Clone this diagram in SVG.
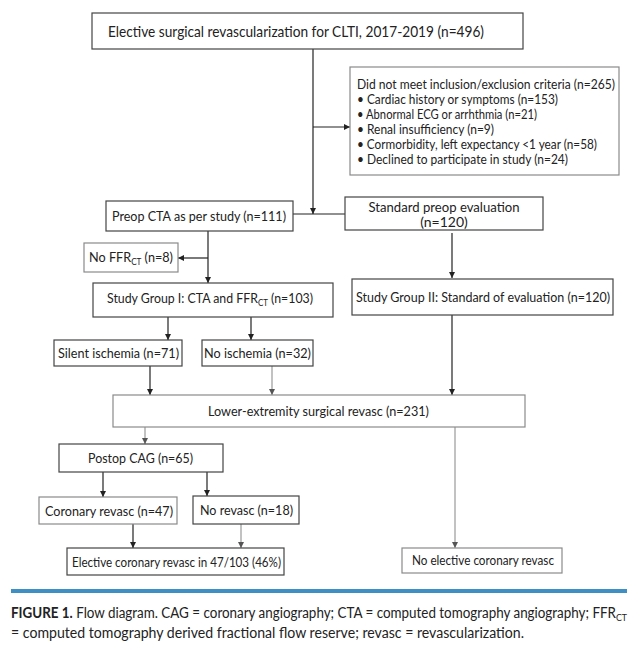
<svg xmlns="http://www.w3.org/2000/svg" width="640" height="650" viewBox="0 0 640 650">
<style>
  .box { fill: #ffffff; stroke: #444444; stroke-width: 1.2; }
  .boxl { fill: #ffffff; stroke: #8a8a8a; stroke-width: 1.2; }
  .t { font-family: Lato, "Liberation Sans", sans-serif; font-size: 14px; fill: #222222; }
  .tc { text-anchor: middle; }
  .ts { font-family: Lato, "Liberation Sans", sans-serif; font-size: 13px; fill: #222222; }
  .cap { font-family: Lato, "Liberation Sans", sans-serif; font-size: 14.5px; fill: #222222; }
  .sub { font-size: 9px; baseline-shift: -3px; }
  .ln { stroke: #222222; stroke-width: 1.2; fill: none; }
  .lg { stroke: #999999; stroke-width: 1.2; fill: none; }
</style>
<defs>
  <marker id="ad" viewBox="0 0 6 6" refX="6" refY="3" markerWidth="6" markerHeight="6" markerUnits="userSpaceOnUse" orient="auto">
    <path d="M0,0 L6,3 L0,6 z" fill="#222222"/>
  </marker>
  <marker id="ag" viewBox="0 0 6 6" refX="6" refY="3" markerWidth="6" markerHeight="6" markerUnits="userSpaceOnUse" orient="auto">
    <path d="M0,0 L6,3 L0,6 z" fill="#555555"/>
  </marker>
</defs>
<rect width="640" height="650" fill="#ffffff"/>

<g id="connectors">
  <line class="ln" x1="313" y1="49" x2="313" y2="214" marker-end="url(#ad)"/>
  <line class="ln" x1="313" y1="127" x2="350" y2="127" marker-end="url(#ad)"/>
  <line class="ln" x1="293" y1="214" x2="345" y2="214"/>
  <line class="ln" x1="208" y1="231" x2="208" y2="283" marker-end="url(#ad)"/>
  <line class="ln" x1="208" y1="258" x2="178" y2="258" marker-end="url(#ad)"/>
  <line class="ln" x1="452" y1="233" x2="452" y2="278" marker-end="url(#ad)"/>
  <line class="ln" x1="168" y1="317" x2="168" y2="340" marker-end="url(#ad)"/>
  <line class="ln" x1="251" y1="317" x2="251" y2="340" marker-end="url(#ad)"/>
  <line class="ln" x1="150" y1="366" x2="150" y2="395" marker-end="url(#ad)"/>
  <line class="lg" x1="272" y1="366" x2="272" y2="395" marker-end="url(#ag)"/>
  <line class="ln" x1="452" y1="315" x2="452" y2="395" marker-end="url(#ad)"/>
  <line class="lg" x1="145" y1="427" x2="145" y2="444" marker-end="url(#ag)"/>
  <line class="lg" x1="455" y1="427" x2="455" y2="548" marker-end="url(#ag)"/>
  <line class="ln" x1="103" y1="472" x2="103" y2="497" marker-end="url(#ad)"/>
  <line class="ln" x1="207" y1="472" x2="207" y2="496" marker-end="url(#ad)"/>
  <line class="ln" x1="133" y1="524" x2="133" y2="548" marker-end="url(#ad)"/>
  <line class="lg" x1="241" y1="524" x2="241" y2="548" marker-end="url(#ag)"/>
</g>

<g id="n-top">
  <rect class="box" x="92" y="13" width="431" height="36"/>
  <text class="t" style="font-size:16px" x="108" y="37" textLength="376" lengthAdjust="spacingAndGlyphs">Elective surgical revascularization for CLTI, 2017-2019 (n=496)</text>
</g>

<g id="n-excl">
  <rect class="boxl" x="350" y="67" width="269" height="108"/>
  <text class="ts" x="357" y="89" textLength="258" lengthAdjust="spacingAndGlyphs">Did not meet inclusion/exclusion criteria (n=265)</text>
  <text class="ts" x="357" y="104" textLength="201" lengthAdjust="spacingAndGlyphs">• Cardiac history or symptoms (n=153)</text>
  <text class="ts" x="357" y="119" textLength="180" lengthAdjust="spacingAndGlyphs">• Abnormal ECG or arrhthmia (n=21)</text>
  <text class="ts" x="357" y="134" textLength="137" lengthAdjust="spacingAndGlyphs">• Renal insufficiency (n=9)</text>
  <text class="ts" x="357" y="149" textLength="240" lengthAdjust="spacingAndGlyphs">• Cormorbidity, left expectancy &lt;1 year (n=58)</text>
  <text class="ts" x="357" y="164" textLength="211" lengthAdjust="spacingAndGlyphs">• Declined to participate in study (n=24)</text>
</g>

<g id="n-preopcta">
  <rect class="box" x="106" y="201" width="187" height="30"/>
  <text class="t" x="112" y="221" textLength="174" lengthAdjust="spacingAndGlyphs">Preop CTA as per study (n=111)</text>
</g>

<g id="n-stdpreop">
  <rect class="box" x="345" y="197" width="198" height="33"/>
  <text class="t tc" x="444" y="212" textLength="151" lengthAdjust="spacingAndGlyphs">Standard preop evaluation</text>
  <text class="t tc" x="444" y="227">(n=120)</text>
</g>

<g id="n-noffr">
  <rect class="boxl" x="84" y="243" width="94" height="29"/>
  <text class="t" x="89" y="262" textLength="84" lengthAdjust="spacingAndGlyphs">No FFR<tspan class="sub">CT</tspan> (n=8)</text>
</g>

<g id="n-group1">
  <rect class="box" x="93" y="283" width="240" height="34"/>
  <text class="t" x="107" y="303" textLength="206" lengthAdjust="spacingAndGlyphs">Study Group I: CTA and FFR<tspan class="sub">CT</tspan> (n=103)</text>
</g>

<g id="n-group2">
  <rect class="box" x="352" y="279" width="261" height="36"/>
  <text class="t" x="356" y="302" textLength="254" lengthAdjust="spacingAndGlyphs">Study Group II: Standard of evaluation (n=120)</text>
</g>

<g id="n-silent">
  <rect class="box" x="54" y="340" width="128" height="26"/>
  <text class="t" x="58" y="358" textLength="121" lengthAdjust="spacingAndGlyphs">Silent ischemia (n=71)</text>
</g>

<g id="n-noisch">
  <rect class="box" x="202" y="340" width="111" height="26"/>
  <text class="t" x="204" y="358" textLength="107" lengthAdjust="spacingAndGlyphs">No ischemia (n=32)</text>
</g>

<g id="n-lower">
  <rect class="boxl" x="113" y="395" width="412" height="32"/>
  <text class="t" x="208" y="416" textLength="221" lengthAdjust="spacingAndGlyphs">Lower-extremity surgical revasc (n=231)</text>
</g>

<g id="n-postop">
  <rect class="box" x="59" y="444" width="164" height="28"/>
  <text class="t" x="88" y="463" textLength="105" lengthAdjust="spacingAndGlyphs">Postop CAG (n=65)</text>
</g>

<g id="n-correvasc">
  <rect class="boxl" x="39" y="497" width="138" height="27"/>
  <text class="t" x="45" y="516" textLength="128" lengthAdjust="spacingAndGlyphs">Coronary revasc (n=47)</text>
</g>

<g id="n-norevasc">
  <rect class="box" x="193" y="496" width="106" height="28"/>
  <text class="t" x="200" y="515" textLength="93" lengthAdjust="spacingAndGlyphs">No revasc (n=18)</text>
</g>

<g id="n-elective">
  <rect class="box" x="67" y="548" width="217" height="27"/>
  <text class="t" x="72" y="567" textLength="209" lengthAdjust="spacingAndGlyphs">Elective coronary revasc in 47/103 (46%)</text>
</g>

<g id="n-noelective">
  <rect class="boxl" x="402" y="548" width="160" height="25"/>
  <text class="t" x="412" y="565" textLength="142" lengthAdjust="spacingAndGlyphs">No elective coronary revasc</text>
</g>

<g id="caption">
  <rect x="11" y="589" width="616" height="4" fill="#3d8fc4"/>
  <text class="cap" x="11" y="618" textLength="616" lengthAdjust="spacingAndGlyphs"><tspan font-weight="bold">FIGURE 1.</tspan> Flow diagram. CAG = coronary angiography; CTA = computed tomography angiography; FFR<tspan class="sub" style="font-size:9.5px">CT</tspan></text>
  <text class="cap" x="11" y="638" textLength="513" lengthAdjust="spacingAndGlyphs">= computed tomography derived fractional flow reserve; revasc = revascularization.</text>
</g>
</svg>
